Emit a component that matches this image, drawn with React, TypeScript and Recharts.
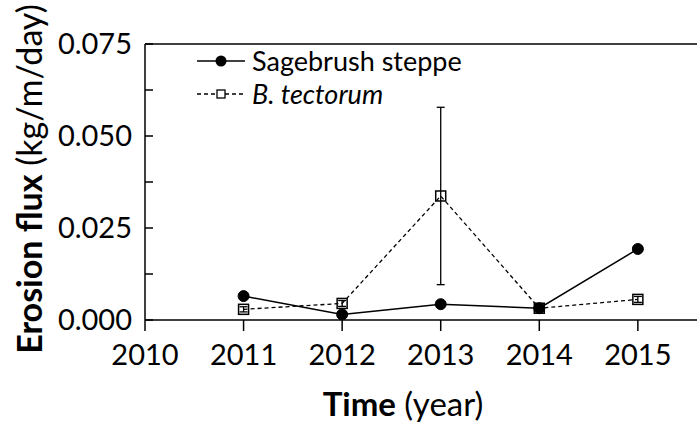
import React from 'react';
import {
  LineChart,
  Line,
  XAxis,
  YAxis,
  Legend,
  ErrorBar,
  ReferenceLine
} from 'recharts';

const YEARS = [2011, 2012, 2013, 2014, 2015];
const SAGEBRUSH = [0.0065, 0.0015, 0.0043, 0.0032, 0.0193];
const BROMUS = [0.0029, 0.0045, 0.0337, 0.0032, 0.0056];
const BROMUS_ERR = [0.0007, 0.0008, 0.0241, 0.0003, 0.0008];
const SERIES_NAMES = ['Sagebrush steppe', 'B. tectorum'];
const X_TICKS = [2010, 2011, 2012, 2013, 2014, 2015];
const Y_TICKS = [0, 0.0125, 0.025, 0.0375, 0.05, 0.0625, 0.075];

const FONT = 'Lato, "Open Sans", sans-serif';

const data = YEARS.map((year, i) => ({
  year,
  sagebrush: SAGEBRUSH[i],
  bromus: BROMUS[i],
  bromusErr: BROMUS_ERR[i]
}));

// y ticks point into the plot, labels only on every other tick
const YTick = (props: any) => {
  const { x, y, payload } = props;
  const major = payload.index % 2 === 0;
  return (
    <g>
      <line x1={x + 13} x2={x + 21} y1={y} y2={y} stroke="#000" strokeWidth={1.5} />
      {major && (
        <text x={x} y={y} dy="0.355em" textAnchor="end" fontSize={29} fontFamily={FONT} fill="#000">
          {payload.value.toFixed(3)}
        </text>
      )}
    </g>
  );
};

const SquareDot = (props: any) => {
  const { cx, cy, index } = props;
  if (cx == null || cy == null) return <g key={index} />;
  return (
    <rect key={index} x={cx - 5} y={cy - 5} width={10} height={10} fill="none" stroke="#000" strokeWidth={1.5} />
  );
};

const LegendBox = (props: any) => {
  const items = [...(props.payload || [])].sort(
    (a: any, b: any) => SERIES_NAMES.indexOf(a.value) - SERIES_NAMES.indexOf(b.value)
  );
  return (
    <div style={{ fontFamily: FONT, fontSize: 27, color: '#000' }}>
      {items.map((item: any) => {
        const first = item.value === SERIES_NAMES[0];
        return (
          <div key={item.value} style={{ display: 'flex', alignItems: 'center', height: 33 }}>
            <svg width={55} height={20} style={{ marginRight: 2 }}>
              {first ? (
                <>
                  <line x1={2} x2={50} y1={10} y2={10} stroke="#000" strokeWidth={1.5} />
                  <circle cx={26} cy={10} r={5.5} fill="#000" />
                </>
              ) : (
                <>
                  <line x1={2} x2={50} y1={10} y2={10} stroke="#000" strokeWidth={1.3} strokeDasharray="4 3" />
                  <rect x={22} y={6} width={8} height={8} fill="#fff" stroke="#000" strokeWidth={1.3} />
                </>
              )}
            </svg>
            <span style={{ fontStyle: first ? 'normal' : 'italic' }}>{item.value}</span>
          </div>
        );
      })}
    </div>
  );
};

const YLabel = (props: any) => {
  const { viewBox } = props;
  const cy = viewBox.y + viewBox.height / 2 - 3;
  return (
    <text
      x={28}
      y={cy}
      transform={`rotate(-90, 28, ${cy})`}
      textAnchor="middle"
      dominantBaseline="central"
      fontSize={34}
      fontFamily={FONT}
      fill="#000"
    >
      <tspan fontWeight="bold">Erosion flux</tspan>
      <tspan> (kg/m/day)</tspan>
    </text>
  );
};

const XLabel = () => (
  <text x={403} y={416} textAnchor="middle" fontSize={33} fontFamily={FONT} fill="#000">
    <tspan fontWeight="bold">Time</tspan>
    <tspan> (year)</tspan>
  </text>
);

export default function App() {
  return (
    <div style={{ position: 'absolute', left: 0, top: 0, width: 697, height: 426, background: '#fff' }}>
      <LineChart width={697} height={426} data={data} margin={{ top: 44, right: 0, bottom: 0, left: 0 }}>
        <XAxis
          dataKey="year"
          type="number"
          domain={[2010, 2015.6]}
          ticks={X_TICKS}
          interval={0}
          allowDataOverflow
          height={106}
          tickSize={11}
          tickMargin={13}
          stroke="#000"
          strokeWidth={1.5}
          tick={{ fontSize: 29, fontFamily: FONT, fill: '#000' }}
          label={<XLabel />}
        />
        <YAxis
          type="number"
          domain={[0, 0.075]}
          ticks={Y_TICKS}
          interval={0}
          width={145}
          tickSize={0}
          tickMargin={13}
          tickLine={false}
          stroke="#000"
          strokeWidth={1.5}
          tick={<YTick />}
          label={<YLabel />}
        />
        <ReferenceLine y={0.075} stroke="#000" strokeWidth={1.5} />
        <Legend
          layout="vertical"
          verticalAlign="middle"
          align="center"
          content={<LegendBox />}
          wrapperStyle={{ left: 195, top: 44, width: 300 }}
        />
        <Line
          name="Sagebrush steppe"
          dataKey="sagebrush"
          type="linear"
          stroke="#000"
          strokeWidth={1.5}
          dot={{ r: 5.5, fill: '#000', stroke: '#000', strokeWidth: 1 }}
          activeDot={false}
          isAnimationActive={false}
        />
        <Line
          name="B. tectorum"
          dataKey="bromus"
          type="linear"
          stroke="#000"
          strokeWidth={1.3}
          strokeDasharray="4 3"
          dot={SquareDot}
          activeDot={false}
          isAnimationActive={false}
        >
          <ErrorBar dataKey="bromusErr" direction="y" width={4} stroke="#000" strokeWidth={1.3} />
        </Line>
      </LineChart>
    </div>
  );
}
